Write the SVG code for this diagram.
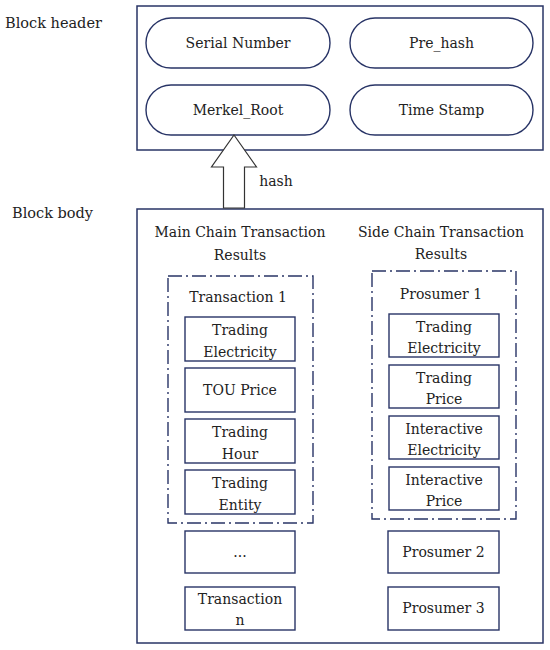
<svg xmlns="http://www.w3.org/2000/svg" width="550" height="650" viewBox="0 0 550 650">
<style>
  text { font-family: "DejaVu Serif", "Liberation Serif", serif; font-size: 14px; fill: #222; text-anchor: middle; }
  .lbl { text-anchor: start; font-size: 14.5px; }
  .frame { fill: #fff; stroke: #283466; stroke-width: 1.5; }
  .pill { fill: #fff; stroke: #283466; stroke-width: 1.4; }
  .box { fill: #fff; stroke: #283466; stroke-width: 1.4; }
  .group { fill: none; stroke: #283466; stroke-width: 1.4; stroke-dasharray: 14 4 2 4; }
  .arrow { fill: #fff; stroke: #333; stroke-width: 1.2; stroke-linejoin: miter; }
</style>
<rect width="550" height="650" fill="#fff"/>

<g id="block-header">
  <text class="lbl" x="5" y="28">Block header</text>
  <rect class="frame" x="137" y="6" width="406" height="144"/>
</g>
<g id="serial-number">
  <rect class="pill" x="146" y="18" width="184" height="50" rx="25" ry="25"/>
  <text x="238" y="48">Serial Number</text>
</g>
<g id="pre-hash">
  <rect class="pill" x="350" y="18" width="183" height="50" rx="25" ry="25"/>
  <text x="441.5" y="48">Pre_hash</text>
</g>
<g id="merkel-root">
  <rect class="pill" x="146" y="85" width="184" height="50" rx="25" ry="25"/>
  <text x="238" y="115">Merkel_Root</text>
</g>
<g id="time-stamp">
  <rect class="pill" x="350" y="85" width="183" height="50" rx="25" ry="25"/>
  <text x="441.5" y="115">Time Stamp</text>
</g>

<g id="block-body">
  <text class="lbl" x="12" y="218">Block body</text>
  <rect class="frame" x="137" y="209" width="406" height="434"/>
  <text x="240" y="237">Main Chain Transaction</text>
  <text x="240" y="260">Results</text>
  <text x="441" y="237">Side Chain Transaction</text>
  <text x="441" y="259">Results</text>
</g>

<g id="transaction-1">
  <rect class="group" x="168" y="276" width="145" height="247"/>
  <text x="238" y="302">Transaction 1</text>
</g>
<g id="main-trading-electricity">
  <rect class="box" x="185" y="317" width="110" height="44"/>
  <text x="240" y="335">Trading</text>
  <text x="240" y="357">Electricity</text>
</g>
<g id="tou-price">
  <rect class="box" x="185" y="368" width="110" height="44"/>
  <text x="240" y="395">TOU Price</text>
</g>
<g id="trading-hour">
  <rect class="box" x="185" y="419" width="110" height="44"/>
  <text x="240" y="437">Trading</text>
  <text x="240" y="459">Hour</text>
</g>
<g id="trading-entity">
  <rect class="box" x="185" y="470" width="110" height="44"/>
  <text x="240" y="488">Trading</text>
  <text x="240" y="510">Entity</text>
</g>
<g id="ellipsis">
  <rect class="box" x="185" y="531" width="110" height="42"/>
  <text x="240" y="557">...</text>
</g>
<g id="transaction-n">
  <rect class="box" x="185" y="587" width="110" height="43"/>
  <text x="240" y="604">Transaction</text>
  <text x="240" y="625">n</text>
</g>

<g id="prosumer-1">
  <rect class="group" x="372" y="271" width="144" height="248"/>
  <text x="441" y="299">Prosumer 1</text>
</g>
<g id="side-trading-electricity">
  <rect class="box" x="389" y="314" width="110" height="43"/>
  <text x="444" y="332">Trading</text>
  <text x="444" y="353">Electricity</text>
</g>
<g id="trading-price">
  <rect class="box" x="389" y="365" width="110" height="43"/>
  <text x="444" y="383">Trading</text>
  <text x="444" y="404">Price</text>
</g>
<g id="interactive-electricity">
  <rect class="box" x="389" y="416" width="110" height="43"/>
  <text x="444" y="434">Interactive</text>
  <text x="444" y="455">Electricity</text>
</g>
<g id="interactive-price">
  <rect class="box" x="389" y="467" width="110" height="43"/>
  <text x="444" y="485">Interactive</text>
  <text x="444" y="506">Price</text>
</g>
<g id="prosumer-2">
  <rect class="box" x="388" y="531" width="111" height="42"/>
  <text x="443.5" y="557">Prosumer 2</text>
</g>
<g id="prosumer-3">
  <rect class="box" x="388" y="587" width="111" height="43"/>
  <text x="443.5" y="613">Prosumer 3</text>
</g>

<g id="connectors">
  <polygon class="arrow" points="234,135 256.5,167 244.5,167 244.5,208 223.5,208 223.5,167 211.5,167"/>
  <text x="276" y="186">hash</text>
</g>
</svg>
